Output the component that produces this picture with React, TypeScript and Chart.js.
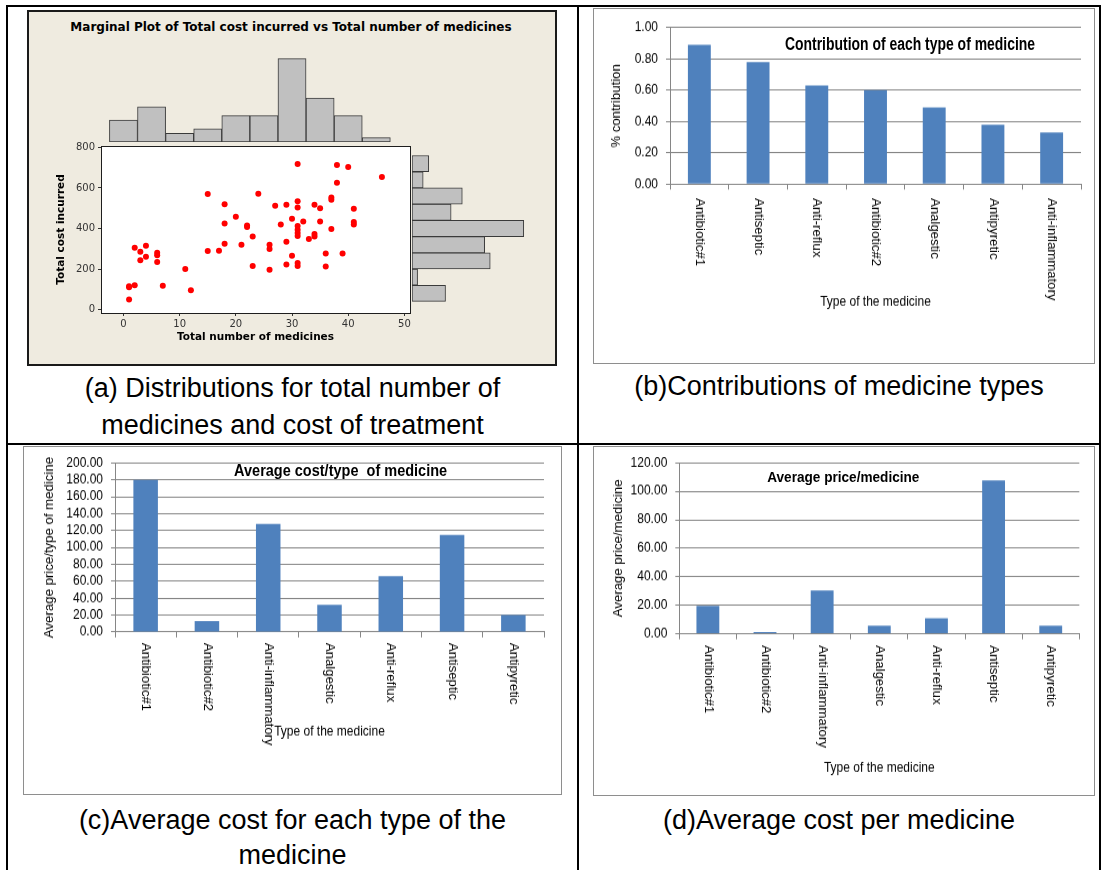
import React, { useEffect, useRef } from "react";
import { Chart, registerables } from "chart.js";

Chart.register(...registerables);

// ---------------- data ----------------
// (a) marginal plot
const scatterX = [1, 1, 1, 2, 2, 3, 3, 4, 4, 6, 6, 6, 7, 11, 12, 15, 15, 17, 18, 18, 18, 20, 21, 22, 22, 23, 23, 24, 26, 26, 26, 27, 28, 29, 29, 29, 30, 30, 31, 31, 31, 31, 31, 31, 31, 31, 31, 32, 33, 34, 34, 34, 35, 35, 36, 36, 37, 37, 37, 38, 38, 39, 40, 41, 41, 41, 46];
const scatterY = [50, 110, 115, 120, 305, 285, 243, 315, 261, 280, 268, 235, 117, 200, 95, 570, 289, 290, 520, 425, 325, 458, 320, 415, 407, 360, 215, 572, 320, 299, 197, 512, 420, 517, 335, 222, 448, 266, 718, 534, 503, 412, 394, 378, 363, 230, 215, 435, 348, 517, 373, 361, 500, 435, 276, 212, 553, 542, 397, 713, 626, 276, 703, 498, 432, 420, 654];
const scatterXTicks = [0, 10, 20, 30, 40, 50];
const scatterYTicks = [0, 200, 400, 600, 800];
const topHistCenters = [0, 5, 10, 15, 20, 25, 30, 35, 40, 45];
const topHistCounts = [5, 8, 2, 3, 6, 6, 19, 10, 6, 1];
const rightHistCenters = [80, 160, 240, 320, 400, 480, 560, 640, 720];
const rightHistCounts = [6, 1, 14, 13, 20, 7, 9, 2, 3];

// (b) contribution
const contribLabels = ["Antibiotic#1", "Antiseptic", "Anti-reflux", "Antibiotic#2", "Analgestic", "Antipyretic", "Anti-inflammatory"];
const contribValues = [0.89, 0.78, 0.63, 0.6, 0.49, 0.38, 0.33];
const contribTicks = [0, 0.2, 0.4, 0.6, 0.8, 1.0];

// (c) average cost per type, (d) average price per medicine
const typeLabels = ["Antibiotic#1", "Antibiotic#2", "Anti-inflammatory", "Analgestic", "Anti-reflux", "Antiseptic", "Antipyretic"];
const avgCostValues = [180, 13, 128, 32, 66, 115, 20];
const avgCostTicks = [0, 20, 40, 60, 80, 100, 120, 140, 160, 180, 200];
const avgPriceValues = [19.5, 1.2, 30.4, 5.6, 10.8, 107.6, 5.6];
const avgPriceTicks = [0, 20, 40, 60, 80, 100, 120];

// ---------------- styles ----------------
const SANS = "'Liberation Sans', Arial, sans-serif";
const MINI = "'DejaVu Sans', Tahoma, sans-serif";
const BAR_BLUE = "#4F81BD";
const GRID = "#868686";

function useChart(make: (c: HTMLCanvasElement) => any) {
  const ref = useRef<HTMLCanvasElement>(null);
  useEffect(() => {
    const c = ref.current;
    if (!c) return;
    const chart = make(c);
    return () => chart.destroy();
  }, []);
  return ref;
}

// ---------------- panel (a) ----------------
function ScatterCanvas() {
  const ref = useChart((c) => {
    const plotBox = {
      id: "plotBox",
      beforeDraw(chart: any) {
        const { ctx, chartArea: a } = chart;
        ctx.save();
        ctx.fillStyle = "#ffffff";
        ctx.fillRect(a.left, a.top, a.right - a.left, a.bottom - a.top);
        ctx.restore();
      },
      afterDraw(chart: any) {
        const { ctx, chartArea: a } = chart;
        ctx.save();
        ctx.strokeStyle = "#1e1e1e";
        ctx.lineWidth = 1;
        ctx.strokeRect(Math.round(a.left) + 0.5, Math.round(a.top) + 0.5, Math.round(a.right - a.left), Math.round(a.bottom - a.top));
        ctx.restore();
      },
    };
    return new Chart(c, {
      type: "scatter",
      data: {
        datasets: [
          {
            data: scatterX.map((x, i) => ({ x, y: scatterY[i] })),
            pointRadius: 3,
            pointBackgroundColor: "#FF0000",
            pointBorderWidth: 0,
            borderWidth: 0,
          },
        ],
      },
      options: {
        responsive: false,
        animation: false,
        events: [],
        layout: { padding: { left: 11, right: 5, top: 9, bottom: 2 } },
        plugins: { legend: { display: false }, tooltip: { enabled: false } },
        scales: {
          x: {
            type: "linear",
            min: -4,
            max: 51,
            afterBuildTicks: (s: any) => {
              s.ticks = scatterXTicks.map((v) => ({ value: v }));
            },
            grid: { drawOnChartArea: false, drawTicks: true, tickLength: 3, color: "#333" },
            border: { display: true, color: "#1e1e1e" },
            ticks: { color: "#333", font: { family: MINI, size: 10 }, padding: 2, autoSkip: false },
            title: {
              display: true,
              text: "Total number of medicines",
              color: "#000",
              font: { family: MINI, size: 10.5, weight: "bold" },
              padding: { top: 2, bottom: 4 },
            },
            afterFit: (s: any) => {
              s.height = 35;
            },
          },
          y: {
            type: "linear",
            min: -17,
            max: 807,
            afterBuildTicks: (s: any) => {
              s.ticks = scatterYTicks.map((v) => ({ value: v }));
            },
            grid: { drawOnChartArea: false, drawTicks: true, tickLength: 3, color: "#333" },
            border: { display: true, color: "#1e1e1e" },
            ticks: { color: "#333", font: { family: MINI, size: 10 }, padding: 3, autoSkip: false },
            title: {
              display: true,
              text: "Total cost incurred",
              color: "#000",
              font: { family: MINI, size: 10.5, weight: "bold" },
              padding: { top: 4, bottom: 2 },
            },
            afterFit: (s: any) => {
              s.width = 50;
            },
          },
        },
      },
      plugins: [plotBox],
    } as any);
  });
  // chart area: x 101..410, y 146..313
  return <canvas ref={ref} width={375} height={213} style={{ position: "absolute", left: 40, top: 137, width: 375, height: 213 }} />;
}

function TopHistCanvas() {
  const ref = useChart(
    (c) =>
      new Chart(c, {
        type: "bar",
        data: {
          datasets: [
            {
              data: topHistCenters.map((x, i) => ({ x, y: topHistCounts[i] })),
              backgroundColor: "#C0C0C0",
              borderColor: "#3a3a3a",
              borderWidth: 1,
              borderSkipped: false,
              barPercentage: 1,
              categoryPercentage: 1,
            },
          ],
        },
        options: {
          responsive: false,
          animation: false,
          events: [],
          layout: { padding: 0 },
          plugins: { legend: { display: false }, tooltip: { enabled: false } },
          scales: {
            x: {
              type: "linear",
              display: false,
              offset: false,
              min: -4,
              max: 51,
              afterBuildTicks: (s: any) => {
                s.ticks = topHistCenters.map((v) => ({ value: v }));
              },
            },
            y: { type: "linear", display: false, min: 0, max: 19.84 },
          },
        },
      } as any)
  );
  return <canvas ref={ref} width={309} height={87} style={{ position: "absolute", left: 101, top: 55, width: 309, height: 87 }} />;
}

function RightHistCanvas() {
  const ref = useChart(
    (c) =>
      new Chart(c, {
        type: "bar",
        data: {
          datasets: [
            {
              data: rightHistCenters.map((y, i) => ({ x: rightHistCounts[i], y })),
              backgroundColor: "#C0C0C0",
              borderColor: "#3a3a3a",
              borderWidth: 1,
              borderSkipped: false,
              barPercentage: 1,
              categoryPercentage: 1,
            },
          ],
        },
        options: {
          indexAxis: "y",
          responsive: false,
          animation: false,
          events: [],
          layout: { padding: 0 },
          plugins: { legend: { display: false }, tooltip: { enabled: false } },
          scales: {
            y: {
              type: "linear",
              display: false,
              offset: false,
              min: -17,
              max: 807,
              afterBuildTicks: (s: any) => {
                s.ticks = rightHistCenters.map((v) => ({ value: v }));
              },
            },
            x: { type: "linear", display: false, min: 0, max: 20.4 },
          },
        },
      } as any)
  );
  return <canvas ref={ref} width={114} height={167} style={{ position: "absolute", left: 412, top: 146, width: 114, height: 167 }} />;
}

function PanelA() {
  return (
    <>
      <div
        style={{
          position: "absolute",
          left: 27,
          top: 10,
          width: 530,
          height: 356,
          boxSizing: "border-box",
          border: "2px solid #1a1a1a",
          background: "#EFEBE0",
        }}
      />
      <div
        style={{
          position: "absolute",
          left: 291,
          top: 27,
          transform: "translate(-50%, -50%)",
          whiteSpace: "nowrap",
          font: `bold 12px ${MINI}`,
          color: "#000",
        }}
      >
        Marginal Plot of Total cost incurred vs Total number of medicines
      </div>
      <TopHistCanvas />
      <RightHistCanvas />
      <ScatterCanvas />
    </>
  );
}

// ---------------- Excel-style bar panels ----------------
type ExcelSpec = {
  box: { left: number; top: number; width: number; height: number };
  logicalHeight: number;
  pad: { left: number; right: number; top: number; bottom: number };
  yWidth: number;
  xHeight: number;
  labelGap: number;
  barPct: number;
  labels: string[];
  values: number[];
  yTicks: number[];
  yTitle: string;
  xTitle: string;
  title: { text: string; cx: number; cy: number; size: number; sx: number; sy: number };
};

function ExcelPanel({ spec }: { spec: ExcelSpec }) {
  const ref = useChart((c) => {
    const rotLabels = {
      id: "rotLabels",
      afterDraw(chart: any) {
        const xs = chart.scales.x;
        const ctx = chart.ctx;
        ctx.save();
        ctx.font = `12px ${SANS}`;
        ctx.fillStyle = "#000";
        ctx.textAlign = "left";
        ctx.textBaseline = "middle";
        spec.labels.forEach((lab, i) => {
          const x = xs.getPixelForTick(i);
          const y = xs.top + spec.labelGap;
          ctx.save();
          ctx.translate(x, y);
          ctx.rotate(Math.PI / 2);
          ctx.fillText(lab, 0, 0);
          ctx.restore();
        });
        ctx.restore();
      },
    };
    const yMax = spec.yTicks[spec.yTicks.length - 1];
    return new Chart(c, {
      type: "bar",
      data: {
        labels: spec.labels,
        datasets: [
          {
            data: spec.values,
            backgroundColor: BAR_BLUE,
            borderWidth: 0,
            barPercentage: spec.barPct,
            categoryPercentage: 1,
          },
        ],
      },
      options: {
        responsive: false,
        animation: false,
        events: [],
        layout: { padding: spec.pad },
        plugins: { legend: { display: false }, tooltip: { enabled: false }, title: { display: false } },
        scales: {
          x: {
            type: "category",
            offset: true,
            grid: { display: true, offset: true, drawOnChartArea: false, drawTicks: true, tickLength: 5, color: GRID, lineWidth: 1 },
            border: { display: true, color: GRID },
            ticks: { display: false },
            title: {
              display: true,
              text: spec.xTitle,
              color: "#000",
              font: { family: SANS, size: 12 },
              padding: { top: 4, bottom: 4 },
            },
            afterFit: (s: any) => {
              s.height = spec.xHeight;
            },
          },
          y: {
            type: "linear",
            min: 0,
            max: yMax,
            afterBuildTicks: (s: any) => {
              s.ticks = spec.yTicks.map((v) => ({ value: v }));
            },
            grid: { color: GRID, lineWidth: 1, drawTicks: true, tickLength: 4 },
            border: { display: true, color: GRID },
            ticks: {
              color: "#000",
              font: { family: SANS, size: 12 },
              padding: 8,
              autoSkip: false,
              callback: (v: any) => Number(v).toFixed(2),
            },
            title: {
              display: true,
              text: spec.yTitle,
              color: "#000",
              font: { family: SANS, size: 12 },
              padding: { top: 4, bottom: 4 },
            },
            afterFit: (s: any) => {
              s.width = spec.yWidth;
            },
          },
        },
      },
      plugins: [rotLabels],
    } as any);
  });
  const { box, logicalHeight, title } = spec;
  const s = box.height / logicalHeight;
  return (
    <>
      <div
        style={{
          position: "absolute",
          left: box.left,
          top: box.top,
          width: box.width,
          height: box.height,
          boxSizing: "border-box",
          border: "1px solid #8e8e8e",
          background: "#fff",
        }}
      />
      <div
        style={{
          position: "absolute",
          left: box.left,
          top: box.top,
          width: box.width,
          height: logicalHeight,
          transform: `scaleY(${s})`,
          transformOrigin: "0 0",
        }}
      >
        <canvas ref={ref} width={box.width} height={logicalHeight} style={{ display: "block", width: box.width, height: logicalHeight }} />
      </div>
      <div
        style={{
          position: "absolute",
          left: title.cx,
          top: title.cy,
          transform: `translate(-50%, -50%) scale(${title.sx}, ${title.sy})`,
          whiteSpace: "pre",
          font: `bold ${title.size}px ${SANS}`,
          color: "#000",
          lineHeight: 1.15,
        }}
      >
        {title.text}
      </div>
    </>
  );
}

const specB: ExcelSpec = {
  box: { left: 593, top: 8, width: 502, height: 356 },
  logicalHeight: 324,
  pad: { left: 12.8, right: 14, top: 17.9, bottom: 45.2 },
  yWidth: 64.2,
  xHeight: 118.6,
  labelGap: 12.7,
  barPct: 0.39,
  labels: contribLabels,
  values: contribValues,
  yTicks: contribTicks,
  yTitle: "% contribution",
  xTitle: "Type of the medicine",
  title: { text: "Contribution of each type of medicine", cx: 910, cy: 44, size: 17, sx: 0.82, sy: 1.1 },
};

const specC: ExcelSpec = {
  box: { left: 23, top: 446, width: 539, height: 349 },
  logicalHeight: 317,
  pad: { left: 15.1, right: 18, top: 15.4, bottom: 46.3 },
  yWidth: 76.9,
  xHeight: 101.8,
  labelGap: 9.8,
  barPct: 0.4,
  labels: typeLabels,
  values: avgCostValues,
  yTicks: avgCostTicks,
  yTitle: "Average price/type of medicine",
  xTitle: "Type of the medicine",
  title: { text: "Average cost/type  of medicine", cx: 340.6, cy: 470.7, size: 14.5, sx: 1, sy: 1.1 },
};

const specD: ExcelSpec = {
  box: { left: 593, top: 446, width: 502, height: 350 },
  logicalHeight: 318,
  pad: { left: 14.1, right: 15.7, top: 15.3, bottom: 14 },
  yWidth: 72.2,
  xHeight: 133.4,
  labelGap: 10.3,
  barPct: 0.4,
  labels: typeLabels,
  values: avgPriceValues,
  yTicks: avgPriceTicks,
  yTitle: "Average price/medicine",
  xTitle: "Type of the medicine",
  title: { text: "Average price/medicine", cx: 843.3, cy: 477.3, size: 13.6, sx: 1, sy: 1.1 },
};

// ---------------- page ----------------
const captionStyle = (left: number, width: number, top: number, lh: number): React.CSSProperties => ({
  position: "absolute",
  left,
  width,
  top,
  textAlign: "center",
  fontFamily: SANS,
  fontSize: 27,
  lineHeight: `${lh}px`,
  color: "#000",
  whiteSpace: "nowrap",
});

const line = (left: number, top: number, width: number, height: number): React.CSSProperties => ({
  position: "absolute",
  left,
  top,
  width,
  height,
  background: "#000",
});

export default function App() {
  return (
    <div
      style={{
        position: "fixed",
        left: 0,
        top: 0,
        width: 1102,
        height: 870,
        background: "#fff",
        overflow: "hidden",
        fontFamily: SANS,
      }}
    >
      {/* table rules */}
      <div style={line(6, 5, 1095, 2)} />
      <div style={line(6, 5, 2, 865)} />
      <div style={line(577, 5, 2, 865)} />
      <div style={line(1099, 5, 2, 865)} />
      <div style={line(6, 443, 1095, 2)} />

      <PanelA />
      <ExcelPanel spec={specB} />
      <ExcelPanel spec={specC} />
      <ExcelPanel spec={specD} />

      <div style={captionStyle(8, 569, 369.5, 37)}>
        (a) Distributions for total number of
        <br />
        medicines and cost of treatment
      </div>
      <div style={captionStyle(579, 520, 367.5, 37)}>(b)Contributions of medicine types</div>
      <div style={captionStyle(8, 569, 802.5, 35)}>
        (c)Average cost for each type of the
        <br />
        medicine
      </div>
      <div style={captionStyle(579, 520, 802.5, 35)}>(d)Average cost per medicine</div>
    </div>
  );
}
